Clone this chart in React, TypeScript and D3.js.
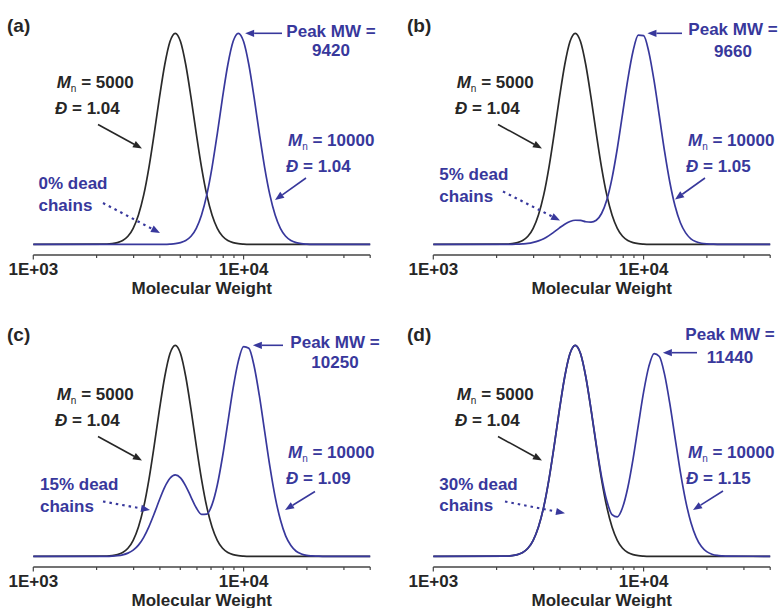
import React from "react";
import * as d3 from "d3";

// Molecular weight sample grid (g/mol)
const mw = [1000, 2239, 2371, 2512, 2661, 2818, 2985, 3162, 3350, 3548, 3758, 3981, 4217, 4467, 4732, 5012, 5309, 5623, 5957, 6310, 6683, 7079, 7499, 7943, 8414, 8913, 9441, 10000, 10593, 11220, 11885, 12589, 13335, 14125, 14962, 15849, 16788, 17783, 18836, 19953, 21135, 22387, 23714, 25119, 40000];

// Normalised signal, Mn = 5000 reference (black), same in every panel
const reference5000 = [0, .001, .003, .008, .018, .038, .076, .139, .234, .365, .525, .696, .851, .961, 1, .961, .851, .696, .525, .365, .234, .139, .076, .038, .018, .008, .003, .001, 0, 0, 0, 0, 0, 0, 0, 0, 0, 0, 0, 0, 0, 0, 0, 0, 0];
// Chain-extended product (blue), one series per panel
const product0 = [0, 0, 0, 0, 0, 0, 0, 0, 0, 0, 0, 0, 0, .001, .003, .008, .018, .038, .076, .139, .234, .365, .525, .696, .851, .961, 1, .961, .851, .696, .525, .365, .234, .139, .076, .038, .018, .008, .003, .001, 0, 0, 0, 0, 0];
const product5 = [0, 0, 0, .001, .002, .004, .009, .016, .026, .041, .059, .078, .095, .108, .114, .113, .107, .105, .114, .146, .210, .314, .454, .618, .782, .916, .991, .989, .911, .774, .607, .439, .293, .180, .102, .054, .026, .012, .005, .002, .001, 0, 0, 0, 0];
const product15 = [0, 0, .001, .003, .007, .015, .029, .053, .090, .141, .202, .268, .328, .370, .386, .372, .333, .281, .230, .199, .200, .245, .338, .473, .634, .796, .925, .994, .986, .902, .761, .593, .426, .282, .173, .097, .051, .024, .011, .004, .002, .001, 0, 0, 0];
const product30 = [0, .001, .003, .008, .018, .038, .076, .139, .234, .365, .525, .696, .851, .961, 1, .961, .852, .698, .530, .378, .263, .198, .187, .231, .326, .462, .622, .778, .900, .961, .947, .861, .722, .559, .399, .263, .160, .090, .046, .022, .010, .004, .002, .001, 0];

const panelLabels = ["(a)", "(b)", "(c)", "(d)"];
const productSeries = [product0, product5, product15, product30];
const peakMW = [9420, 9660, 10250, 11440];
const peakHeight = [1, 1, 1, 0.965];
const deadLabels = ["0% dead", "5% dead", "15% dead", "30% dead"];
const productDispersity = ["1.04", "1.05", "1.09", "1.15"];
const referenceMn = "5000";
const referenceDispersity = "1.04";
const productMn = "10000";
const tickValues = [1000, 2000, 3000, 4000, 5000, 6000, 7000, 8000, 9000, 10000, 20000, 30000, 40000];
const majorTicks = [1000, 10000];
const majorTickLabels = ["1E+03", "1E+04"];
const xTitle = "Molecular Weight";

// Layout (panel-local coordinates)
const offsets = [[0, 0], [400, 0], [0, 312], [400, 312]];
const labelY = [32, 32, 28.5, 28.5];
const peakTextX = [331, 333, 335, 330];
const peakTextY1 = [36.7, 35, 36.3, 28];
const peakTextY2 = [56, 57, 56.3, 51.3];
const peakArrowTail = [282, 282, 283, 297];
const liveArrow = [[306, 178, 275, 200], [305, 178, 275, 199.5], [315, 179.5, 285, 198], [323, 179, 293, 198]];
const deadTextX = [38.5, 39.3, 40, 39.3];
const deadTextY = [189, 180, 178, 177.5];
const deadArrow = [[103, 203, 160, 233], [103, 191.5, 160, 220.5], [103, 189.5, 150, 198], [105, 189.5, 165, 201.3]];

const BLUE = "#38389c";
const DARK = "#262626";
const FONT = "'Liberation Sans', Arial, Helvetica, sans-serif";

function Arrow({ x1, y1, x2, y2, color, dotted }: any) {
  const a = Math.atan2(y2 - y1, x2 - x1);
  const L = 9, W = 3.6;
  const bx = x2 - L * Math.cos(a), by = y2 - L * Math.sin(a);
  const p1 = [bx + W * Math.sin(a), by - W * Math.cos(a)];
  const p2 = [bx - W * Math.sin(a), by + W * Math.cos(a)];
  return (
    <g>
      <line x1={x1} y1={y1} x2={bx} y2={by} stroke={color} strokeWidth={dotted ? 2.2 : 1.6}
        strokeDasharray={dotted ? "2.5 4" : undefined} />
      <polygon points={`${x2},${y2} ${p1[0]},${p1[1]} ${p2[0]},${p2[1]}`} fill={color} />
    </g>
  );
}

function Panel({ idx }: { idx: number }) {
  const x = d3.scaleLog().domain([1000, 40000]).range([33.3, 370.2]);
  const y = d3.scaleLinear().domain([0, 1]).range([244.3, 33.3]);
  const line = d3.line<number>().x((_, i) => x(mw[i])).y((v) => y(v)).curve(d3.curveMonotoneX);
  const [ox, oy] = offsets[idx];
  const px = x(peakMW[idx]) + 7;
  const py = y(peakHeight[idx]);
  const la = liveArrow[idx];
  const da = deadArrow[idx];
  const fs = 17;
  return (
    <g transform={`translate(${ox},${oy})`} fontFamily={FONT} fontWeight="bold" fontSize={fs} style={{ whiteSpace: "pre" }}>
      <text x={7} y={labelY[idx]} fill={DARK} fontSize={19}>{panelLabels[idx]}</text>
      {/* curves */}
      <path d={line(reference5000) || ""} fill="none" stroke="#2a2a2a" strokeWidth={1.7} />
      <path d={line(productSeries[idx]) || ""} fill="none" stroke={BLUE} strokeWidth={1.7} />
      {/* axis */}
      <line x1={x(1000)} x2={x(40000)} y1={255} y2={255} stroke="#444" strokeWidth={1.6} />
      {tickValues.map((t) => (
        <line key={t} x1={x(t)} x2={x(t)} y1={255} y2={majorTicks.includes(t) ? 259.5 : 258} stroke="#444" strokeWidth={1.2} />
      ))}
      {majorTicks.map((t, i) => (
        <text key={t} x={x(t)} y={275} textAnchor="middle" fill={DARK}>{majorTickLabels[i]}</text>
      ))}
      <text x={(x(1000) + x(40000)) / 2} y={294} textAnchor="middle" fill={DARK}>{xTitle}</text>
      {/* reference annotation */}
      <text x={56.7} y={88} fill={DARK}>
        <tspan fontStyle="italic">M</tspan>
        <tspan fontSize={10} fontWeight="normal" dy={4}>n</tspan>
        <tspan dy={-4}>{` = ${referenceMn}`}</tspan>
      </text>
      <text x={55} y={113.5} fill={DARK}>
        <tspan fontStyle="italic">Đ</tspan>
        <tspan>{` = ${referenceDispersity}`}</tspan>
      </text>
      <Arrow x1={98} y1={124.5} x2={142} y2={148.5} color={DARK} />
      {/* peak annotation */}
      <text x={peakTextX[idx]} y={peakTextY1[idx]} textAnchor="middle" fill={BLUE}>Peak MW =</text>
      <text x={peakTextX[idx]} y={peakTextY2[idx]} textAnchor="middle" fill={BLUE}>{String(peakMW[idx])}</text>
      <Arrow x1={peakArrowTail[idx]} y1={py} x2={px} y2={py} color={BLUE} />
      {/* product annotation */}
      <text x={288} y={146} fill={BLUE}>
        <tspan fontStyle="italic">M</tspan>
        <tspan fontSize={10} fontWeight="normal" dy={4}>n</tspan>
        <tspan dy={-4}>{` = ${productMn}`}</tspan>
      </text>
      <text x={286} y={172} fill={BLUE}>
        <tspan fontStyle="italic">Đ</tspan>
        <tspan>{` = ${productDispersity[idx]}`}</tspan>
      </text>
      <Arrow x1={la[0]} y1={la[1]} x2={la[2]} y2={la[3]} color={BLUE} />
      {/* dead chains annotation */}
      <text x={deadTextX[idx]} y={deadTextY[idx]} fill={BLUE}>{deadLabels[idx]}</text>
      <text x={deadTextX[idx]} y={deadTextY[idx] + 21.5} fill={BLUE}>chains</text>
      <Arrow x1={da[0]} y1={da[1]} x2={da[2]} y2={da[3]} color={BLUE} dotted />
    </g>
  );
}

export default function App() {
  return (
    <svg width={778} height={608} style={{ position: "absolute", left: 0, top: 0, background: "#fff" }}>
      <rect width={778} height={608} fill="#fff" />
      {[0, 1, 2, 3].map((i) => <Panel key={i} idx={i} />)}
    </svg>
  );
}
